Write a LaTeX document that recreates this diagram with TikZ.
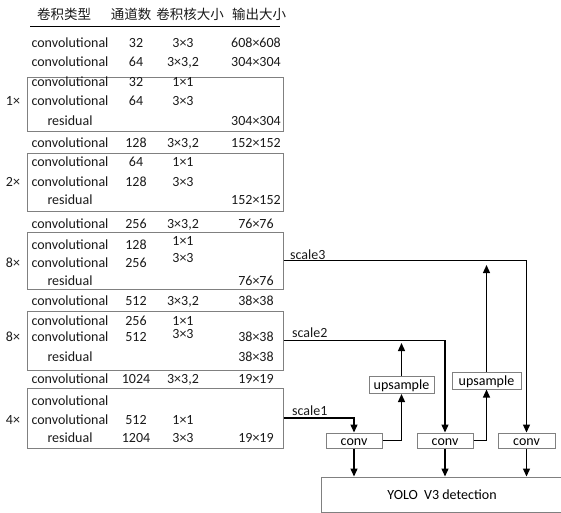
\documentclass[tikz,border=0pt]{standalone}
\usepackage{fontspec}
\setmainfont{Carlito}
\newfontfamily\cjk{Noto Sans CJK SC}
\usetikzlibrary{arrows.meta}
\newcommand\myrow[6]{%
  \node[txt] (#1a) at (70,#2) {#3};
  \node[txt] (#1b) at (136,#2) {#4};
  \node[txt] (#1c) at (183,#2) {#5};
  \node[txt] (#1d) at (256,#2) {#6};}
\begin{document}
\begin{tikzpicture}[x=1pt,y=-1pt,
  txt/.style={font=\fontsize{14}{16}\selectfont, inner sep=0pt, text height=9pt, text depth=0pt, anchor=center, text=black!90},
  hd/.style={font=\cjk\fontsize{13.5}{15}\selectfont, inner sep=0pt, anchor=center, text=black!90},
  grp/.style={draw=black!50, line width=1pt, inner sep=0pt, minimum width=256pt},
  cbox/.style={draw=black!50, line width=1pt, font=\fontsize{14}{16}\selectfont, inner sep=0pt, text height=9pt, text depth=0pt},
  ln/.style={line width=1.3pt},
  arr/.style={ln, -{Triangle[length=8pt,width=7pt]}}]
\useasboundingbox (0,0) rectangle (561,512);
% header
\node[hd] (h1) at (64,14) {卷积类型};
\node[hd] (h2) at (131,14) {通道数};
\node[hd] (h3) at (190,14) {卷积核大小};
\node[hd] (h4) at (259,14) {输出大小};
\draw[line width=1pt] (30,26) -- (280,26);
% group boxes
\node[grp, minimum height=54pt] (b1) at (155,104) {};
\node[grp, minimum height=58pt] (b2) at (155,182) {};
\node[grp, minimum height=57pt] (b3) at (155,260.5) {};
\node[grp, minimum height=59pt] (b4) at (155,340.5) {};
\node[grp, minimum height=60pt] (b5) at (155,418) {};
% rows
\myrow{r1}{43}{convolutional}{32}{3×3}{608×608}
\myrow{r2}{62}{convolutional}{64}{3×3,2}{304×304}
\myrow{r3}{82}{convolutional}{32}{1×1}{}
\myrow{r4}{101}{convolutional}{64}{3×3}{}
\myrow{r5}{121}{residual}{}{}{304×304}
\myrow{r6}{143}{convolutional}{128}{3×3,2}{152×152}
\myrow{r7}{162}{convolutional}{64}{1×1}{}
\myrow{r8}{182}{convolutional}{128}{3×3}{}
\myrow{r9}{200}{residual}{}{}{152×152}
\myrow{r10}{224}{convolutional}{256}{3×3,2}{76×76}
\myrow{r11}{245}{convolutional}{128}{}{}
\node[txt] (r11x) at (183,241) {1×1};
\myrow{r12}{263}{convolutional}{256}{}{}
\node[txt] (r12x) at (183,258) {3×3};
\myrow{r13}{281}{residual}{}{}{76×76}
\myrow{r14}{301}{convolutional}{512}{3×3,2}{38×38}
\myrow{r15}{321}{convolutional}{256}{1×1}{}
\myrow{r16}{337}{convolutional}{512}{}{38×38}
\node[txt] (r16x) at (183,334) {3×3};
\myrow{r17}{357}{residual}{}{}{38×38}
\myrow{r18}{379}{convolutional}{1024}{3×3,2}{19×19}
\myrow{r19}{401}{convolutional}{}{}{}
\myrow{r20}{420}{convolutional}{512}{1×1}{}
\myrow{r21}{438}{residual}{1204}{3×3}{19×19}
% multipliers
\node[txt] (m1) at (13,101) {1×};
\node[txt] (m2) at (13,182) {2×};
\node[txt] (m3) at (13,263) {8×};
\node[txt] (m4) at (13,337) {8×};
\node[txt] (m5) at (13,420) {4×};
% right part
\node[cbox, minimum width=56pt, minimum height=15pt] (conv1) at (354,440.5) {conv};
\node[cbox, minimum width=56pt, minimum height=15pt] (conv2) at (445,440.5) {conv};
\node[cbox, minimum width=57pt, minimum height=15pt] (conv3) at (526.5,440.5) {conv};
\node[cbox, minimum width=65pt, minimum height=17pt] (up1) at (401.5,385) {upsample};
\node[cbox, minimum width=69pt, minimum height=17pt] (up2) at (486.5,380.5) {upsample};
\node[cbox, minimum width=242pt, minimum height=35pt] (det) at (442,494.5) {YOLO\ \ V3 detection};
\coordinate (t1) at (401.5,343);
\coordinate (t2) at (486.5,265);
\draw[arr] (b3.east) -| (conv3.north);
\draw[arr] (b4.east) -| (conv2.north);
\draw[arr] (b5.east) -| (conv1.north);
\draw[arr] (conv1.east) -| (up1.south);
\draw[arr] (conv2.east) -| (up2.south);
\draw[arr] (up1.north) -- (t1);
\draw[arr] (up2.north) -- (t2);
\draw[arr] (conv1.south) -- (conv1.south |- det.north);
\draw[arr] (conv2.south) -- (conv2.south |- det.north);
\draw[arr] (conv3.south) -- (conv3.south |- det.north);
\node[txt, anchor=base west] (s3) at (290,259) {scale3};
\node[txt, anchor=base west] (s2) at (292,337) {scale2};
\node[txt, anchor=base west] (s1) at (292,415) {scale1};
\end{tikzpicture}
\end{document}
